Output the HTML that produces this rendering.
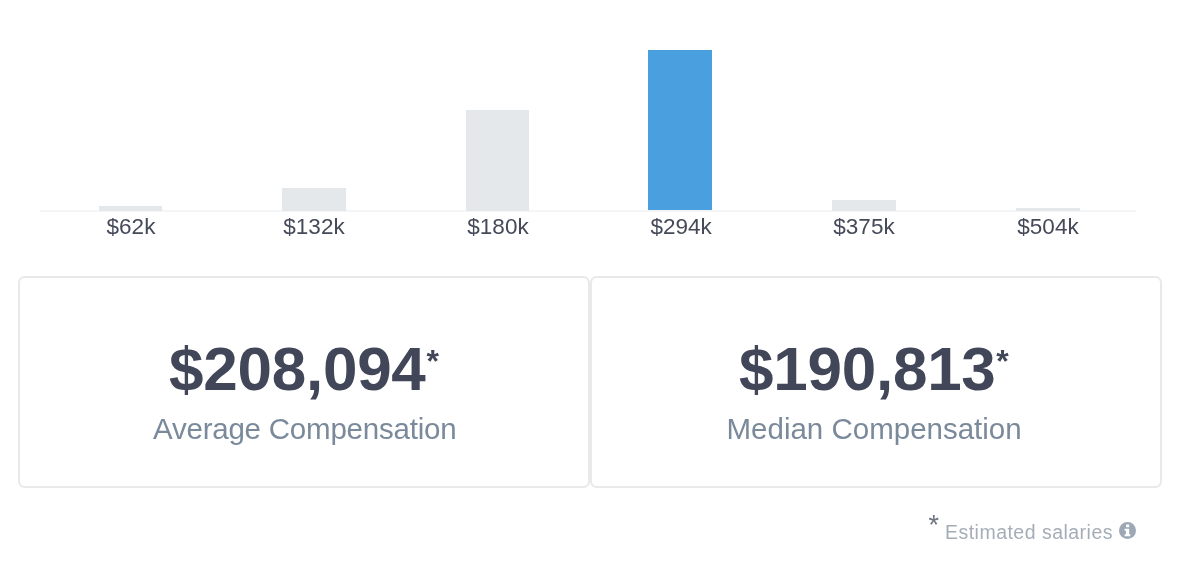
<!DOCTYPE html>
<html><head><meta charset="utf-8">
<style>
html,body{margin:0;padding:0;background:#fff;}
body{width:1196px;height:574px;position:relative;overflow:hidden;font-family:"Liberation Sans",sans-serif;}
.abs{position:absolute;}
.bar{position:absolute;background:#e5e8eb;}
.bar.blue{background:#4aa0df;}
.axis{position:absolute;left:40px;top:209.5px;width:1096px;height:2px;background:#f4f5f6;}
.lbl{position:absolute;top:213.2px;width:120px;text-align:center;font-size:22.5px;line-height:28px;color:#454a59;white-space:nowrap;}
.card{position:absolute;top:276px;height:208px;width:569px;border:2px solid #e9e9eb;border-radius:6.5px;box-sizing:content-box;background:#fff;}
.big{position:absolute;top:338.5px;font-weight:bold;font-size:62px;line-height:60px;letter-spacing:-0.25px;color:#414658;white-space:nowrap;text-align:center;}
.ast{position:absolute;font-size:32px;line-height:32px;font-weight:bold;color:#414658;}
.sub{position:absolute;top:410.5px;font-size:29.5px;line-height:36px;letter-spacing:-0.22px;color:#7b8a9b;white-space:nowrap;text-align:center;}
.foot{position:absolute;font-size:18px;color:#a4adb8;white-space:nowrap;}
</style></head><body>
<div class="axis"></div>
<div class="bar" style="left:98.5px;width:63.5px;top:206px;height:5px;"></div>
<div class="bar" style="left:282.3px;width:63.5px;top:188.3px;height:22.7px;"></div>
<div class="bar" style="left:466.3px;width:63px;top:110.4px;height:100.6px;"></div>
<div class="bar blue" style="left:648.2px;width:63.6px;top:49.9px;height:160.1px;"></div>
<div class="bar" style="left:832px;width:64px;top:199.7px;height:11.3px;"></div>
<div class="bar" style="left:1016.2px;width:63.7px;top:208px;height:3px;"></div>

<div class="lbl" style="left:71px;">$62k</div>
<div class="lbl" style="left:254px;">$132k</div>
<div class="lbl" style="left:438px;">$180k</div>
<div class="lbl" style="left:621.2px;">$294k</div>
<div class="lbl" style="left:804px;">$375k</div>
<div class="lbl" style="left:988px;">$504k</div>

<div class="card" style="left:17.8px;width:568.7px;"></div>
<div class="card" style="left:589.5px;width:568.3px;"></div>

<div class="big" id="b1" style="left:169px;">$208,094</div><div class="ast" id="a1" style="left:426.5px;top:344.5px;">*</div>
<div class="sub" id="s1" style="left:153px;">Average Compensation</div>
<div class="big" id="b2" style="left:739px;">$190,813</div><div class="ast" id="a2" style="left:996.3px;top:344.5px;">*</div>
<div class="sub" id="s2" style="left:726.5px;letter-spacing:0;">Median Compensation</div>

<div class="foot" id="fa" style="left:928.6px;top:509.5px;font-size:27px;color:#6d7480;">*</div>
<div class="foot" id="ft" style="left:945px;top:519.7px;line-height:24px;font-size:19.5px;letter-spacing:0.48px;">Estimated salaries</div>
<svg class="abs" style="left:1119.2px;top:522px;" width="17" height="17" viewBox="0 0 16 16"><circle cx="8" cy="8" r="8" fill="#9da8b4"/><rect x="6.6" y="2.3" width="3" height="2.7" rx="0.4" fill="#fff"/><path d="M5.3 6.4h4.3v5.1h1.1v1.9H5.3v-1.9h1.2V8.3H5.3z" fill="#fff"/></svg>
</body></html>
